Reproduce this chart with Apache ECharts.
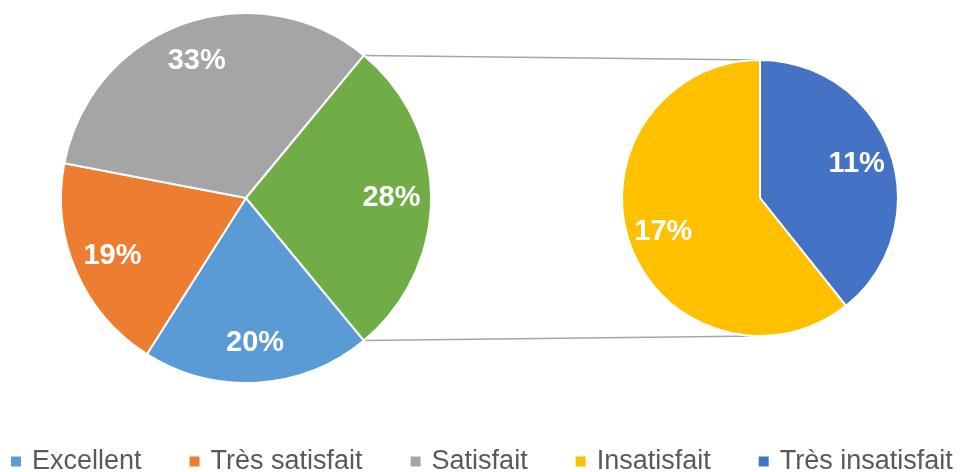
<!DOCTYPE html>
<html>
<head>
<meta charset="utf-8">
<script src="https://cdn.jsdelivr.net/npm/echarts@6/dist/echarts.min.js"></script>
<style>
  html, body { margin: 0; padding: 0; background: #fff; }
  #chart { width: 964px; height: 472px; }
</style>
</head>
<body>
<div id="chart"></div>
<script>
// categories and values (percent)
var categories = ['Excellent', 'Très satisfait', 'Satisfait', 'Insatisfait', 'Très insatisfait']
var mainValues = [20, 19, 33]     // Excellent, Très satisfait, Satisfait
var splitValues = [17, 11]        // Insatisfait, Très insatisfait
var otherName = 'Autre'
var colors = ['#5B9BD5', '#ED7D31', '#A5A5A5', '#FFC000', '#4472C4']
var otherColor = '#70AD47'

// layout
var mainCenter = [246, 198]
var mainRadius = 185
var subCenter = [760, 198]
var subRadius = 138

var otherValue = splitValues[0] + splitValues[1]
var total = mainValues.reduce(function(s, v) { return s + v }, 0) + otherValue
var otherAngle = 360 * otherValue / total
var mainStart = 360 - otherAngle / 2

var mainData = []
for (var i = 0; i < mainValues.length; i++) {
  mainData.push({ name: categories[i], value: mainValues[i], itemStyle: { color: colors[i] } })
}
mainData.push({ name: otherName, value: otherValue, itemStyle: { color: otherColor } })

// second pie: Très insatisfait first from the top, clockwise
var subData = [
  { name: categories[4], value: splitValues[1], itemStyle: { color: colors[4] } },
  { name: categories[3], value: splitValues[0], itemStyle: { color: colors[3] } }
]

function labelRing(data, center, radius, ratio, start) {
  // transparent ring whose middle sits where the percent labels go
  var inner = radius * (2 * ratio - 1)
  return {
    type: 'pie',
    center: center,
    radius: [inner, radius],
    startAngle: start,
    clockwise: true,
    silent: true,
    z: 5,
    avoidLabelOverlap: false,
    emphasis: { disabled: true },
    tooltip: { show: false },
    itemStyle: { color: 'rgba(0,0,0,0)', borderWidth: 0 },
    label: {
      show: true,
      position: 'inside',
      formatter: '{c}%',
      color: '#fff',
      fontSize: 29,
      fontWeight: 'bold',
      fontFamily: 'Liberation Sans, Arial, sans-serif'
    },
    labelLine: { show: false },
    data: data.map(function(d) { return { name: d.name, value: d.value } })
  }
}

// connector lines from the green slice edges to top/bottom of the second pie
var a = otherAngle / 2 * Math.PI / 180
var edgeX = mainCenter[0] + mainRadius * Math.cos(a)
var topY = mainCenter[1] - mainRadius * Math.sin(a)
var botY = mainCenter[1] + mainRadius * Math.sin(a)
var lineStyle = { stroke: '#A6A6A6', lineWidth: 1.5 }

var chart = echarts.init(document.getElementById('chart'))
chart.setOption({
  animation: false,
  legend: {
    data: categories,
    left: 11,
    top: 448,
    width: 960,
    padding: 0,
    icon: 'rect',
    itemWidth: 10,
    itemHeight: 10,
    itemGap: 48,
    itemStyle: { borderWidth: 0 },
    textStyle: {
      fontSize: 27,
      color: '#595959',
      fontFamily: 'Liberation Sans, Arial, sans-serif',
      padding: [0, 0, 0, 6]
    }
  },
  graphic: [
    { type: 'line', z: 0, shape: { x1: edgeX, y1: topY, x2: subCenter[0], y2: subCenter[1] - subRadius }, style: lineStyle },
    { type: 'line', z: 0, shape: { x1: edgeX, y1: botY, x2: subCenter[0], y2: subCenter[1] + subRadius }, style: lineStyle }
  ],
  series: [
    {
      type: 'pie',
      center: mainCenter,
      radius: mainRadius,
      startAngle: mainStart,
      clockwise: true,
      avoidLabelOverlap: false,
      emphasis: { disabled: true },
      itemStyle: { borderColor: '#fff', borderWidth: 2 },
      label: { show: false },
      labelLine: { show: false },
      data: mainData
    },
    {
      type: 'pie',
      center: subCenter,
      radius: subRadius,
      startAngle: 90,
      clockwise: true,
      avoidLabelOverlap: false,
      emphasis: { disabled: true },
      itemStyle: { borderColor: '#fff', borderWidth: 2 },
      label: { show: false },
      labelLine: { show: false },
      data: subData
    },
    labelRing(mainData, mainCenter, mainRadius, 0.77, mainStart),
    labelRing(subData, subCenter, subRadius, 0.72, 90)
  ]
})
</script>
</body>
</html>
